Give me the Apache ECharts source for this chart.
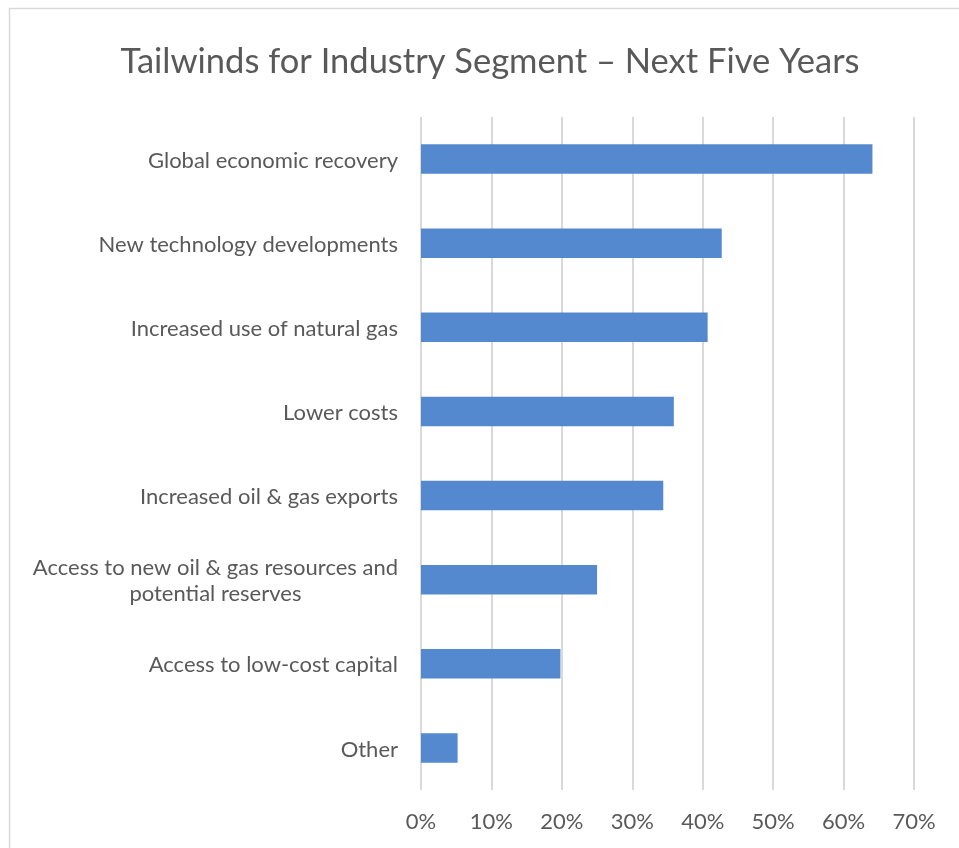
<!DOCTYPE html>
<html>
<head>
<meta charset="utf-8">
<script src="https://cdn.jsdelivr.net/npm/echarts@6/dist/echarts.min.js"></script>
<style>
  html, body { margin: 0; padding: 0; background: #ffffff; }
  #chart { width: 959px; height: 848px; }
</style>
</head>
<body>
<div id="chart"></div>
<script>
// Survey responses: tailwinds expected over the next five years
const categories = [
  'Global economic recovery',
  'New technology developments',
  'Increased use of natural gas',
  'Lower costs',
  'Increased oil & gas exports',
  'Access to new oil & gas resources and\npotential reserves',
  'Access to low-cost capital',
  'Other'
];
const shares = [64.1, 42.7, 40.7, 35.9, 34.4, 25.0, 19.8, 5.2];
const tickValues = [0, 10, 20, 30, 40, 50, 60, 70];

const FONT = 'Lato';
const TEXT = '#595959';

const chart = echarts.init(document.getElementById('chart'), null, { renderer: 'canvas' });

chart.setOption({
  animation: false,
  backgroundColor: '#ffffff',
  title: {
    text: 'Tailwinds for Industry Segment \u2013 Next Five Years',
    left: 485,
    textAlign: 'center',
    top: 39,
    textStyle: { fontFamily: FONT, fontSize: 34.5, fontWeight: 'normal', color: TEXT }
  },
  graphic: [{
    type: 'rect',
    shape: { x: 9.5, y: 8.5, width: 960, height: 860 },
    style: { fill: 'none', stroke: '#d9d9d9', lineWidth: 1.5 },
    silent: true
  }],
  grid: { left: 421, top: 117, width: 493, height: 673, containLabel: false },
  xAxis: {
    type: 'value',
    min: tickValues[0],
    max: tickValues[tickValues.length - 1],
    interval: 10,
    axisLine: { show: false },
    axisTick: { show: false },
    splitLine: { show: true, lineStyle: { color: '#d9d9d9', width: 2 } },
    axisLabel: {
      formatter: v => v + '%',
      fontFamily: FONT, fontSize: 22, color: TEXT, margin: 21
    }
  },
  yAxis: {
    type: 'category',
    data: categories,
    inverse: true,
    axisLine: { show: false },
    axisTick: { show: false },
    axisLabel: {
      margin: 23,
      align: 'right',
      fontFamily: FONT, fontSize: 22, color: TEXT, lineHeight: 26,
      padding: [3, 0, 0, 0],
      formatter: v => v.split('\n').map(s => '{c|' + s + '}').join('\n'),
      rich: { c: { align: 'center', fontFamily: FONT, fontSize: 22, color: TEXT, lineHeight: 26 } }
    }
  },
  series: [{
    type: 'bar',
    data: shares,
    barCategoryGap: '65%',
    itemStyle: { color: '#5589cf' }
  }]
});
</script>
</body>
</html>
